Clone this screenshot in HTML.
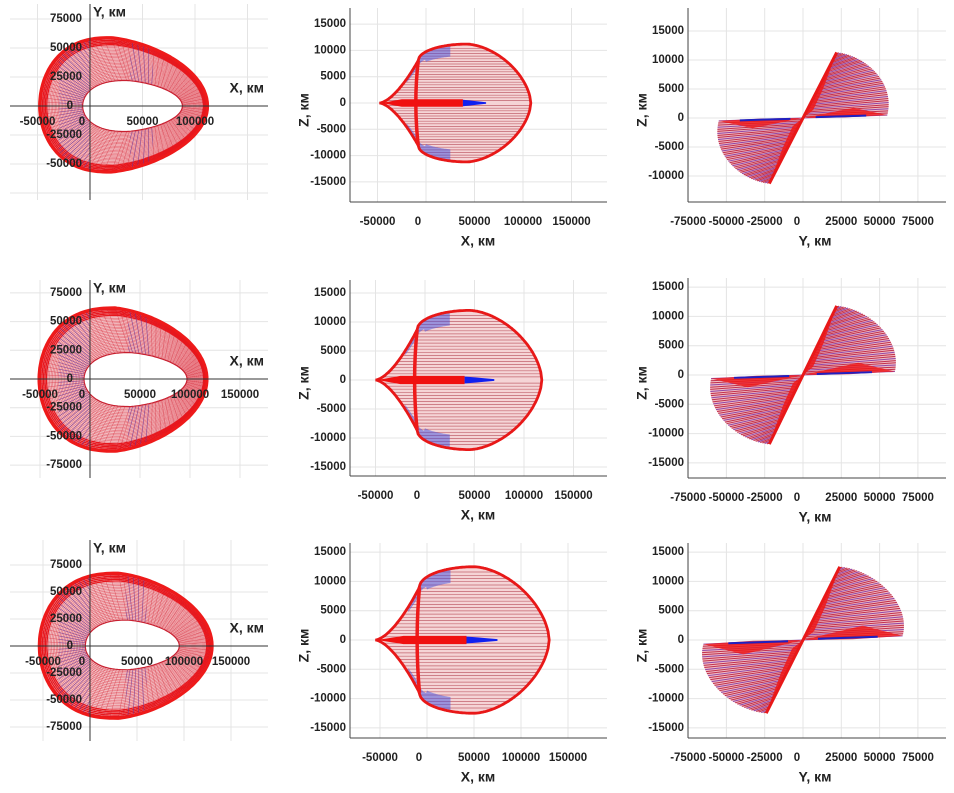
<!DOCTYPE html>
<html><head><meta charset="utf-8">
<style>
html,body{margin:0;padding:0;background:#fff;}
svg{display:block;}
text{font-family:"Liberation Sans",sans-serif;font-weight:bold;fill:#222;}
.tk{font-size:11.5px;}
.ttl{font-size:14px;}
</style></head>
<body>
<svg id="fig" width="954" height="793" viewBox="0 0 954 793" xmlns="http://www.w3.org/2000/svg"></svg>
<script>
// ---------- data (km) ----------
const rows = [0,1,2];
// XY panels
const xyOuterL = [-48000,-51000,-54000];
const xyOuterR = [112000,117000,130000];
const xyOuterT = [59000,62000,67500];
const xyOuterB = [57000,63000,67000];
const xyOuterPeak = [20000,25000,30000];
const xyInnerL = [-7000,-6000,-5000];
const xyInnerR = [88000,97000,95000];
const xyInnerT = [22000,23000,24000];
const xyInnerB = [22000,24000,22000];
const xyInnerPeak = [35000,40000,40000];
const xyXTicks = [[-50000,0,50000,100000],[-50000,0,50000,100000,150000],[-50000,0,50000,100000,150000]];
const xyYTicks = [[75000,50000,25000,0,-25000,-50000],[75000,50000,25000,0,-25000,-50000,-75000],[75000,50000,25000,0,-25000,-50000,-75000]];
// XZ panels
const xzCusp = [-48000,-50000,-55000];
const xzRight = [108000,118000,130000];
const xzZmax = [11200,12000,12500];
const xzXTop = [42000,45000,50000];
const xzBarEnd = [38000,40000,42000];
const xzBlueEnd = [62000,70000,75000];
const xzXTicks = [-50000,0,50000,100000,150000];
const xzYTicks = [15000,10000,5000,0,-5000,-10000,-15000];
// YZ panels
const yzTipY = [22000,22000,24000];
const yzTipZ = [11300,11800,12500];
const yzEndY = [55000,60000,65000];
const yzEndZ = [500,600,700];
const yzBulgeY = [58000,62000,68000];
const yzBulgeZ = [3000,3000,2500];
const yzXTicks = [-75000,-50000,-25000,0,25000,50000,75000];
const yzYTicks = [[15000,10000,5000,0,-5000,-10000],[15000,10000,5000,0,-5000,-10000,-15000],[15000,10000,5000,0,-5000,-10000,-15000]];

// ---------- layout (px) ----------
const xyL = {ox:90, oy:[106,379,646], px50:[52.5,50,47], py25:[29,28.7,27], top:[4,280,540], bot:[200,478,741]};
const xzL = {left:350, right:607, ox:[426,425,427], px50:[48.5,49.5,47], oy:[103,380,640], py5:[26.3,29,29.3], top:[8,280,543], bot:[202,476,738]};
const yzL = {left:688, right:946, ox:803, px25:38.3, oy:[118,375,640], py5:[29,29.3,29.3], top:[8,278,543], bot:[202,478,738]};

const svg = document.getElementById('fig');
const NS = 'http://www.w3.org/2000/svg';
function el(tag, attrs, parent){
  const e = document.createElementNS(NS, tag);
  for (const k in attrs) e.setAttribute(k, attrs[k]);
  (parent||svg).appendChild(e);
  return e;
}
function txt(s, x, y, cls, anchor, parent, rot){
  const t = el('text', {x:x, y:y, class:cls, 'text-anchor':anchor||'middle', 'dominant-baseline':'middle'}, parent);
  if (rot) t.setAttribute('transform', 'rotate(-90 '+x+' '+y+')');
  t.textContent = s;
  return t;
}
function pathD(pts){ return 'M'+pts.map(p=>p[0].toFixed(1)+','+p[1].toFixed(1)).join('L'); }
const fmt = v => String(v);

// ===== XY panels =====
function egg(L,R,T,B,P,t){
  const c=Math.cos(t), s=Math.sin(t);
  const x = c<0 ? P-(P-L)*Math.pow(-c,0.8) : P+(R-P)*Math.pow(c,1.1);
  const k = 1-0.1*Math.max(c,0);
  const y = s>0 ? T*s*k : B*s*k;
  return [x,y];
}
rows.forEach(r=>{
  const g = el('g', {});
  
  
  const ox=xyL.ox, oy=xyL.oy[r];
  const X = v => ox + v/50000*xyL.px50[r];
  const Y = v => oy - v/25000*xyL.py25[r];
  const grid = el('g', {stroke:'#e4e4e4','stroke-width':1}, g);
  
  
  [-50000,0,50000,100000,150000].forEach(v=>el('line',{x1:X(v),x2:X(v),y1:xyL.top[r],y2:xyL.bot[r]},grid));
  [75000,50000,25000,0,-25000,-50000,-75000].forEach(v=>el('line',{x1:10,x2:268,y1:Y(v),y2:Y(v)},grid));
  const N=200, outer=[], inner=[];
  for(let i=0;i<=N;i++){
    const t=i/N*2*Math.PI;
    const o=egg(xyOuterL[r],xyOuterR[r],xyOuterT[r],xyOuterB[r],xyOuterPeak[r],t);
    const n=egg(xyInnerL[r],xyInnerR[r],xyInnerT[r],xyInnerB[r],xyInnerPeak[r],t);
    outer.push([X(o[0]),Y(o[1])]); inner.push([X(n[0]),Y(n[1])]);
  }
  const ring = el('path',{d:pathD(outer)+'Z'+pathD(inner.slice().reverse())+'Z',fill:'#f2c2c6','fill-rule':'evenodd'},g);
  
  
  const mesh = el('g',{fill:'none'},g);
  
  
  const K=30;
  for(let k=0;k<=K;k++){
    const f=k/K;
    const pts=outer.map((p,i)=>[inner[i][0]+(p[0]-inner[i][0])*f, inner[i][1]+(p[1]-inner[i][1])*f]);
    el('path',{d:pathD(pts),stroke: f>0.8?'#e8161c':'#e03040','stroke-width':f>0.8?1.3:0.6,'stroke-opacity':f>0.8?1:0.6},mesh);
  }
  const cid='clipxy'+r;
  const cp=el('clipPath',{id:cid},g);
  el('rect',{x:X(38000),y:0,width:X(60000)-X(38000),height:793},cp);
  el('rect',{x:X(xyOuterL[r]*0.62),y:0,width:X(0)-X(xyOuterL[r]*0.62),height:793},cp);
  const blue=el('g',{'clip-path':'url(#'+cid+')'},g);
  
  
  for(let i=0;i<N;i+=2){
    el('line',{x1:inner[i][0],y1:inner[i][1],x2:outer[i][0],y2:outer[i][1],stroke:'#d02030','stroke-width':0.5,'stroke-opacity':0.6},mesh);
    el('line',{x1:inner[i][0],y1:inner[i][1],x2:outer[i][0],y2:outer[i][1],stroke:'#3040d0','stroke-width':0.7,'stroke-opacity':0.45},blue);
  }
  el('path',{d:pathD(outer)+'Z',fill:'none',stroke:'#ee1a1a','stroke-width':3},g);
  el('path',{d:pathD(inner)+'Z',fill:'none',stroke:'#c82030','stroke-width':1.2},g);
  const ax=el('g',{stroke:'#333','stroke-width':1},g);
  
  
  el('line',{x1:10,x2:268,y1:oy,y2:oy},ax);
  el('line',{x1:ox,x2:ox,y1:xyL.top[r],y2:xyL.bot[r]},ax);
  const tl=el('g',{},g);
  
  
  xyXTicks[r].forEach(v=>txt(fmt(v), v===0?X(v)-8:X(v), oy+16, 'tk','middle',tl));
  xyYTicks[r].forEach(v=>txt(fmt(v), v===0?ox-17:ox-8, Y(v), 'tk','end',tl));
  const yt=txt('Y, км', ox+3, xyL.top[r]+9, 'ttl','start',g);
   
  const xt=txt('X, км', 264, oy-17, 'ttl','end',g);
   
});

// ===== XZ panels =====
rows.forEach(r=>{
  const g = el('g', {});
  
  
  const X = v => xzL.ox[r] + v/50000*xzL.px50[r];
  const Z = v => xzL.oy[r] - v/5000*xzL.py5[r];
  const top=xzL.top[r], bot=xzL.bot[r];
  const grid = el('g', {stroke:'#e4e4e4','stroke-width':1}, g);
  
  
  xzXTicks.forEach(v=>el('line',{x1:X(v),x2:X(v),y1:top,y2:bot},grid));
  xzYTicks.forEach(v=>{ if(Z(v)>top && Z(v)<bot) el('line',{x1:xzL.left,x2:xzL.right,y1:Z(v),y2:Z(v)},grid); });
  const cusp=xzCusp[r], right=xzRight[r], zm=xzZmax[r], xt=xzXTop[r];
  const xa=-8000, za=0.72*zm;
  function zb(x){
    if(x<=xa) return za*Math.pow((x-cusp)/(xa-cusp),1.6);
    if(x<=xt){ const q=(xt-x)/(xt-xa); return za+(zm-za)*Math.sqrt(Math.max(0,1-q*q)); }
    const q=(x-xt)/(right-xt); return zm*Math.pow(Math.max(0,1-Math.pow(q,1.7)),1/1.7);
  }
  const up=[];
  for(let i=0;i<=160;i++){ const x=cusp+(right-cusp)*i/160; up.push([x,zb(x)]); }
  const outline = up.map(p=>[X(p[0]),Z(p[1])]).concat(up.slice().reverse().map(p=>[X(p[0]),Z(-p[1])]));
  const lens=el('path',{d:pathD(outline)+'Z',fill:'#f5d4d6'},g);
  
  
  const mesh=el('g',{fill:'none'},g);
  
  
  const NL=22;
  for(let j=1;j<NL;j++){
    const z=za*j/NL*1.35;
    if(z>=zm) continue;
    let xr=xt; for(let x=xt;x<=right;x+=200){ if(zb(x)<z){xr=x;break;} xr=x; }
    let xl=xa; for(let x=xt;x>=cusp;x-=200){ if(zb(x)<z){xl=x;break;} xl=x; }
    [z,-z].forEach(zz=>{
      el('path',{d:pathD([[X(xl),Z(zz)],[X(xr),Z(zz)]]),stroke:'#a01828','stroke-width':0.7,'stroke-opacity':0.6},mesh);
    });
  }
  // blue patches along the upper-left boundary
  [1,-1].forEach(sg=>{
    const pts=[];
    for(let x=-20000;x<=25000;x+=1000){ pts.push([X(x),Z(sg*zb(x)*0.99)]); }
    for(let x=25000;x>=-20000;x-=1000){ pts.push([X(x),Z(sg*zb(x)*(x<0?0.85:0.8))]); }
    const bp=el('path',{d:pathD(pts)+'Z',fill:'#4050e0','fill-opacity':0.5},g);
    
    
  });
  const ob=el('path',{d:pathD(outline)+'Z',fill:'none',stroke:'#e81818','stroke-width':2.8},g);
  
  
  const la=el('path',{d:'M'+X(xa)+','+Z(za)+'Q'+X(xa-5000)+','+Z(0)+' '+X(xa)+','+Z(-za),fill:'none',stroke:'#ee1a1a','stroke-width':3.5},g);
  
  
  const bar=el('path',{d:pathD([[X(cusp+2000),Z(0)],[X(-25000),Z(-700)],[X(xzBarEnd[r]),Z(-700)],[X(xzBarEnd[r]),Z(700)],[X(-25000),Z(700)]])+'Z',fill:'#f01010'},g);
  
  
  const bb=el('path',{d:pathD([[X(xzBarEnd[r]),Z(-600)],[X(xzBlueEnd[r]),Z(-150)],[X(xzBlueEnd[r]),Z(150)],[X(xzBarEnd[r]),Z(600)]])+'Z',fill:'#1020f0'},g);
  
  
  const ax=el('g',{stroke:'#444','stroke-width':1},g);
  
  
  el('line',{x1:xzL.left,x2:xzL.left,y1:top,y2:bot},ax);
  el('line',{x1:xzL.left,x2:xzL.right,y1:bot,y2:bot},ax);
  const tl=el('g',{},g);
  
  
  xzXTicks.forEach(v=>txt(fmt(v), v===0?X(v)-8:X(v), bot+20, 'tk','middle',tl));
  xzYTicks.forEach(v=>{ if(Z(v)>top && Z(v)<bot) txt(fmt(v), xzL.left-4, Z(v), 'tk','end',tl); });
  const a1=txt('X, км', 478, bot+40, 'ttl','middle',g);
   
  const a2=txt('Z, км', 305, (top+bot)/2+5, 'ttl','middle',g,true);
   
});

// ===== YZ panels =====
rows.forEach(r=>{
  const g = el('g', {});
  
  
  const X = v => yzL.ox + v/25000*yzL.px25;
  const Z = v => yzL.oy[r] - v/5000*yzL.py5[r];
  const top=yzL.top[r], bot=yzL.bot[r];
  const grid = el('g', {stroke:'#e4e4e4','stroke-width':1}, g);
  
  
  yzXTicks.forEach(v=>el('line',{x1:X(v),x2:X(v),y1:top,y2:bot},grid));
  [15000,10000,5000,0,-5000,-10000,-15000].forEach(v=>{ if(Z(v)>top && Z(v)<bot) el('line',{x1:yzL.left,x2:yzL.right,y1:Z(v),y2:Z(v)},grid); });
  const tip=[yzTipY[r],yzTipZ[r]], end=[yzEndY[r],yzEndZ[r]], bY=yzBulgeY[r], bZ=yzBulgeZ[r];
  const P1=[tip[0]+(bY-tip[0])*0.55, tip[1]*0.95], P2=[bY*1.04, bZ+(tip[1]-bZ)*0.35];
  function arc(u){
    const a=(1-u)*(1-u)*(1-u), b=3*(1-u)*(1-u)*u, c=3*(1-u)*u*u, d=u*u*u;
    return [a*tip[0]+b*P1[0]+c*P2[0]+d*end[0], a*tip[1]+b*P1[1]+c*P2[1]+d*end[1]];
  }
  [1,-1].forEach(sg=>{
    const fan=el('g',{},g);
    
    
    const ap=[]; for(let i=0;i<=40;i++){ const p=arc(i/40); ap.push([X(sg*p[0]),Z(sg*p[1])]); }
    el('path',{d:pathD([[X(0),Z(0)]].concat(ap))+'Z',fill:'#f0bcc4'},fan);
    const NF=44;
    for(let i=0;i<=NF;i++){
      const s=i/NF, a=arc(1-s);
      el('line',{x1:X(sg*s*tip[0]),y1:Z(sg*s*tip[1]),x2:X(sg*a[0]),y2:Z(sg*a[1]),stroke:i%3===0?'#8030a0':'#b81838','stroke-width':1,'stroke-opacity':0.85},fan);
    }
    el('path',{d:pathD([[X(0),Z(0)],[X(sg*tip[0]),Z(sg*tip[1])],[X(sg*tip[0]*0.6),Z(sg*tip[1]*0.45)],[X(sg*tip[0]*0.3),Z(sg*tip[1]*0.12)]])+'Z',fill:'#f01818','fill-opacity':0.85},fan);
    el('path',{d:pathD([[X(0),Z(0)],[X(sg*end[0]*0.6),Z(sg*end[1]*3.5)],[X(sg*end[0]),Z(sg*end[1])],[X(sg*end[0]*0.5),Z(sg*end[1]*0.2)]])+'Z',fill:'#f01818','fill-opacity':0.8},fan);
    el('line',{x1:X(sg*end[0]*0.15),y1:Z(sg*end[1]*0.3),x2:X(sg*end[0]*0.75),y2:Z(sg*end[1]*0.8),stroke:'#2020c0','stroke-width':2},fan);
  });
  const dg=el('line',{x1:X(-tip[0]),y1:Z(-tip[1]),x2:X(tip[0]),y2:Z(tip[1]),stroke:'#e81818','stroke-width':3},g);
  
  
  const ax=el('g',{stroke:'#444','stroke-width':1},g);
  
  
  el('line',{x1:yzL.left,x2:yzL.left,y1:top,y2:bot},ax);
  el('line',{x1:yzL.left,x2:yzL.right,y1:bot,y2:bot},ax);
  const tl=el('g',{},g);
  
  
  yzXTicks.forEach(v=>txt(fmt(v), X(v)-(v===0?6:0), bot+20, 'tk','middle',tl));
  yzYTicks[r].forEach(v=>txt(fmt(v), yzL.left-4, Z(v), 'tk','end',tl));
  const a1=txt('Y, км', 815, bot+40, 'ttl','middle',g);
   
  const a2=txt('Z, км', 643, (top+bot)/2+5, 'ttl','middle',g,true);
   
});
</script>
</body></html>
